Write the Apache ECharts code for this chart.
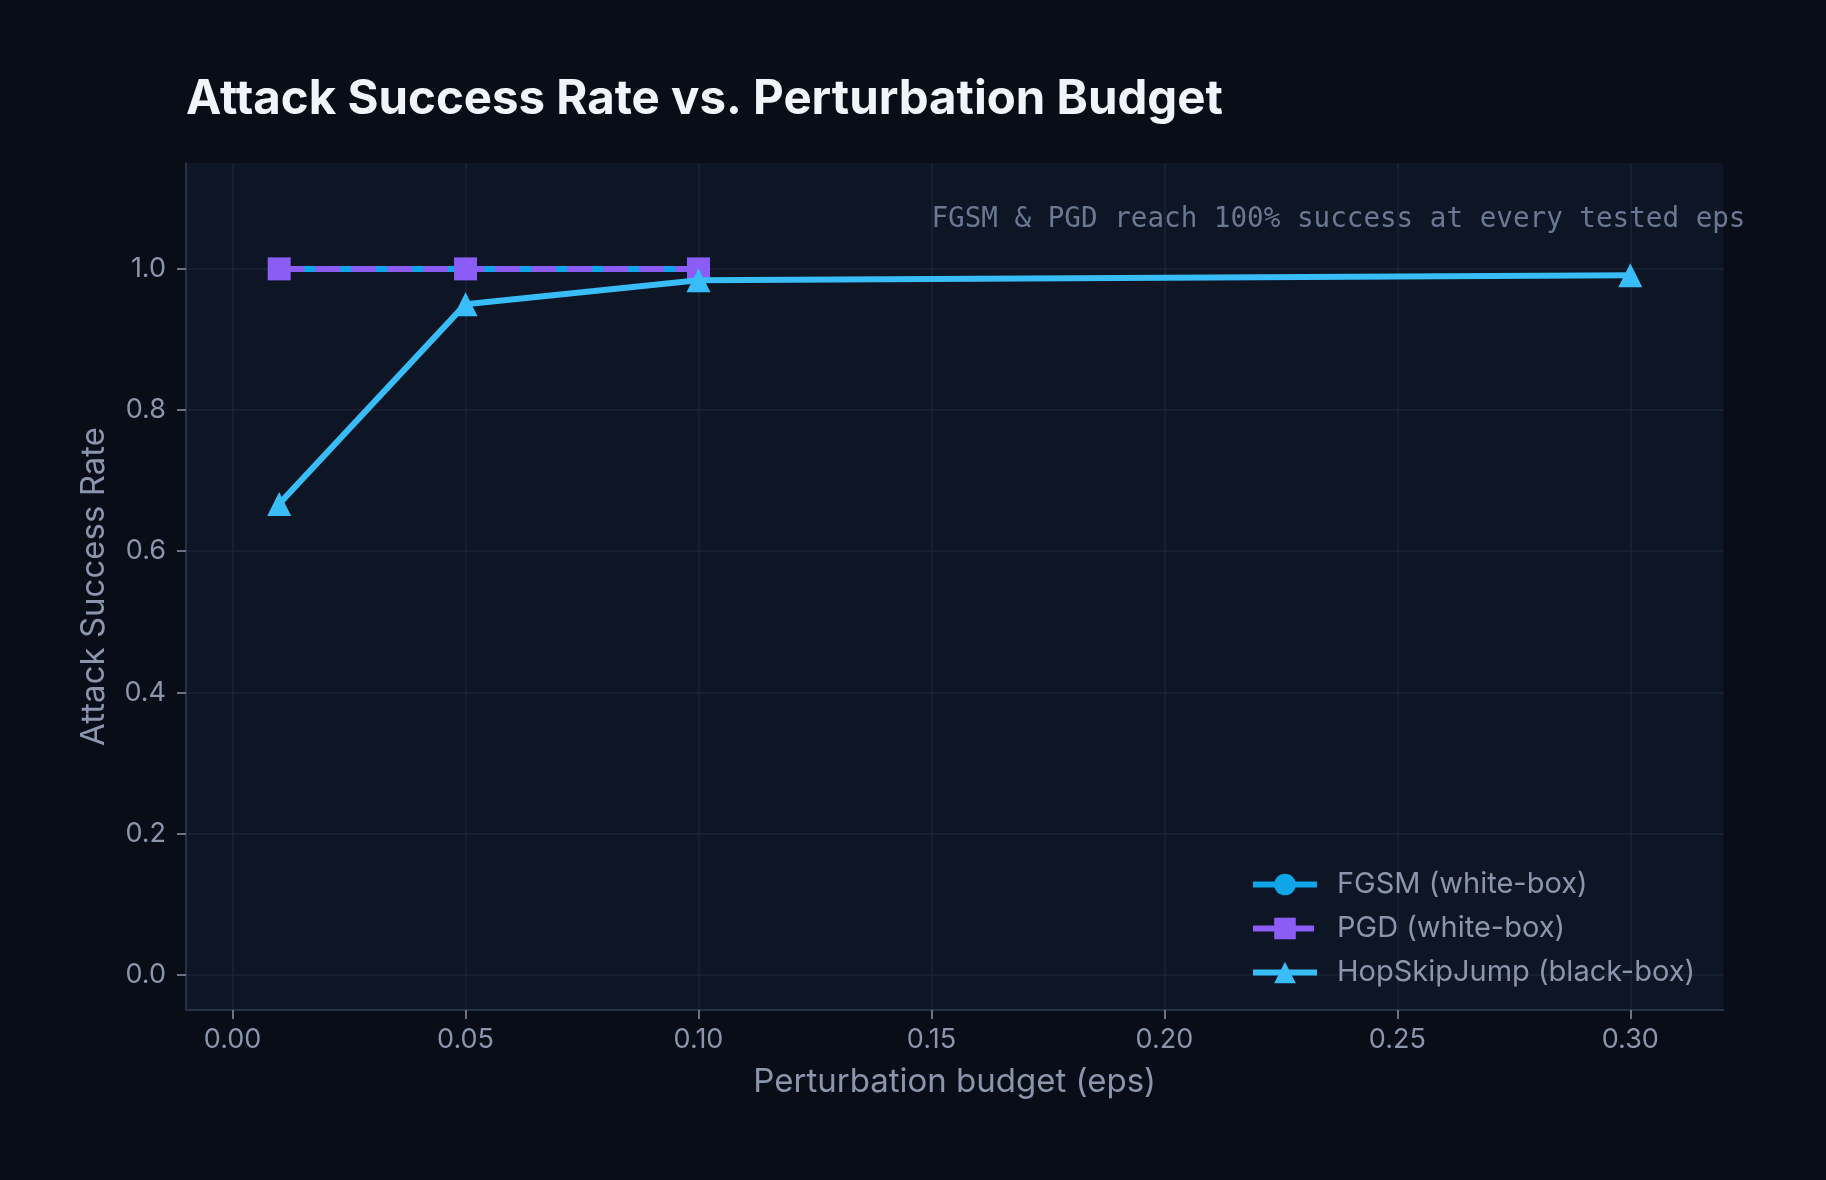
<!DOCTYPE html>
<html>
<head>
<meta charset="utf-8">
<script src="https://cdn.jsdelivr.net/npm/echarts@6/dist/echarts.min.js"></script>
<style>
  html, body { margin: 0; padding: 0; background: #080d18; }
  #chart { width: 1826px; height: 1180px; }
</style>
</head>
<body>
<div id="chart"></div>
<script>
// ---- data ----
const epsFGSM = [0.01, 0.05, 0.10];
const fgsmRate = [1.0, 1.0, 1.0];
const epsPGD = [0.01, 0.05, 0.10];
const pgdRate = [1.0, 1.0, 1.0];
const epsHSJ = [0.01, 0.05, 0.10, 0.30];
const hsjRate = [0.667, 0.950, 0.984, 0.991];
const seriesNames = ['FGSM (white-box)', 'PGD (white-box)', 'HopSkipJump (black-box)'];
const xTicks = [0.00, 0.05, 0.10, 0.15, 0.20, 0.25, 0.30];
const yTicks = [0.0, 0.2, 0.4, 0.6, 0.8, 1.0];
const annotationText = 'FGSM & PGD reach 100% success at every tested eps';
const annotationAt = [0.15, 1.069];

const pair = (xs, ys) => xs.map((x, i) => [x, ys[i]]);

const labelColor = '#8b96ad';
const chart = echarts.init(document.getElementById('chart'), null, { renderer: 'canvas' });

const option = {
  animation: false,
  backgroundColor: '#080d18',
  title: {
    text: 'Attack Success Rate vs. Perturbation Budget',
    left: 186,
    top: 75,
    padding: 0,
    textStyle: { color: '#f1f5f9', fontFamily: 'Inter', fontWeight: 'bold', fontSize: 47.4, lineHeight: 50 }
  },
  grid: {
    left: 186, right: 102.5, top: 163, bottom: 170,
    show: true, backgroundColor: '#0e1524', borderWidth: 0
  },
  xAxis: {
    type: 'value', min: -0.01, max: 0.32,
    name: 'Perturbation budget (eps)', nameLocation: 'middle', nameGap: 56,
    nameTextStyle: { color: labelColor, fontFamily: 'Inter', fontSize: 33 },
    axisLine: { show: true, onZero: false, lineStyle: { color: '#263145', width: 2 } },
    axisTick: { show: true, length: 9, customValues: xTicks, lineStyle: { color: labelColor, width: 1.5 } },
    axisLabel: { customValues: xTicks, margin: 16, color: labelColor, fontFamily: 'Inter', fontSize: 27,
                 formatter: v => v.toFixed(2) },
    splitLine: { show: true, lineStyle: { color: '#1a2434', width: 1.5 } }
  },
  yAxis: {
    type: 'value', min: -0.05, max: 1.15,
    name: 'Attack Success Rate', nameLocation: 'middle', nameGap: 75, nameRotate: 90,
    nameTextStyle: { color: labelColor, fontFamily: 'Inter', fontSize: 33 },
    axisLine: { show: true, onZero: false, lineStyle: { color: '#263145', width: 2 } },
    axisTick: { show: true, length: 9, customValues: yTicks, lineStyle: { color: labelColor, width: 1.5 } },
    axisLabel: { customValues: yTicks, margin: 20, color: labelColor, fontFamily: 'Inter', fontSize: 27,
                 formatter: v => v.toFixed(1) },
    splitLine: { show: true, lineStyle: { color: '#1a2434', width: 1.5 } }
  },
  legend: {
    orient: 'vertical', left: 1245, top: 865,
    itemWidth: 64, itemHeight: 27, itemGap: 15,
    data: seriesNames,
    lineStyle: { width: 6 },
    textStyle: { color: labelColor, fontFamily: 'Inter', fontSize: 29, lineHeight: 28, padding: [0, 0, 0, 15] }
  },
  series: [
    {
      name: seriesNames[0], type: 'line', data: pair(epsFGSM, fgsmRate),
      symbol: 'circle', symbolSize: 21, showAllSymbol: true,
      lineStyle: { color: '#0ea5e9', width: 6 }, itemStyle: { color: '#0ea5e9' }, z: 2
    },
    {
      name: seriesNames[1], type: 'line', data: pair(epsPGD, pgdRate),
      symbol: 'rect', symbolSize: 23, showAllSymbol: true,
      lineStyle: { color: '#8b5cf6', width: 6, type: [25, 11] }, itemStyle: { color: '#8b5cf6' }, z: 3
    },
    {
      name: seriesNames[2], type: 'line', data: pair(epsHSJ, hsjRate),
      symbol: 'triangle', symbolSize: 24, showAllSymbol: true,
      lineStyle: { color: '#38bdf8', width: 6 }, itemStyle: { color: '#38bdf8' }, z: 4
    }
  ]
};
chart.setOption(option);

const p = chart.convertToPixel({ gridIndex: 0 }, annotationAt);
chart.setOption({
  graphic: [{
    type: 'text', x: p[0], y: p[1], silent: true,
    style: { text: annotationText, fill: '#6b7894', font: '27.6px "DejaVu Sans Mono"', verticalAlign: 'middle', align: 'left' }
  }]
});
</script>
</body>
</html>
